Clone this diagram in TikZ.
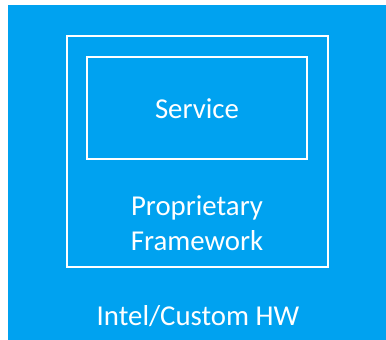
\documentclass[tikz,border=0pt]{standalone}
\usepackage{fontspec}
\setmainfont{Carlito}
\definecolor{bgblue}{HTML}{00A2F0}
\begin{document}
\begin{tikzpicture}[x=1pt,y=-1pt,
  frame/.style={draw=white,line width=2pt,inner sep=0pt,outer sep=0pt},
  label/.style={text=white,font=\fontsize{28.8}{35}\selectfont,inner sep=0pt,anchor=base,align=center}]
\useasboundingbox (0,0) rectangle (386,340);
\node[fill=bgblue,inner sep=0pt,outer sep=0pt,minimum width=378pt,minimum height=335pt] (hw) at (197,172.5) {};
\node[frame,minimum width=261pt,minimum height=231pt] (fw) at (197.5,151.5) {};
\node[frame,minimum width=220pt,minimum height=102pt] (svc) at (197,108) {};
\node[label] (svct) at (197,118) {Service};
\node[label] (fwt) at (197,250) {Proprietary\\Framework};
\node[label] (hwt) at (198,325) {Intel/Custom HW};
\end{tikzpicture}
\end{document}
